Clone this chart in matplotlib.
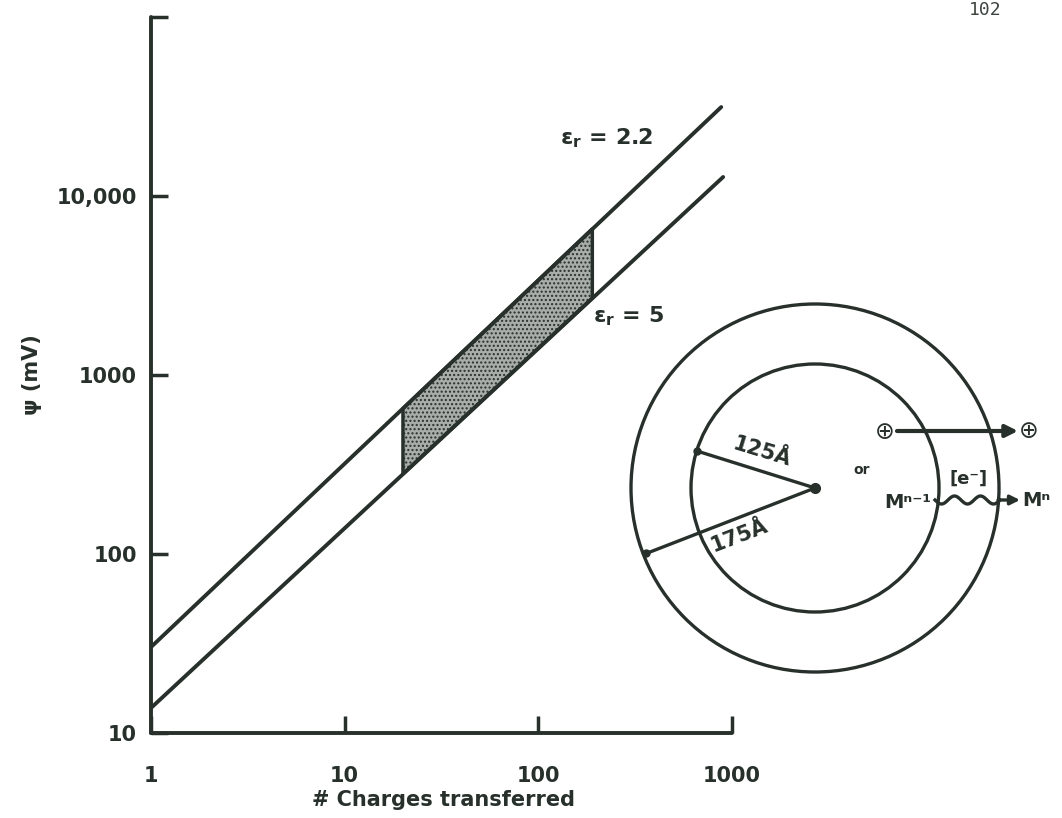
import numpy as np
import matplotlib
matplotlib.use("Agg")
import matplotlib.pyplot as plt
from matplotlib.patches import Circle

W, H = 1062, 818
INK = "#27302b"

# ── Data ─────────────────────────────────────────────────────────────────────
charges_22 = [1, 880]          # eps_r = 2.2 line
psi_22 = [30.2, 31400]
charges_5 = [1, 900]           # eps_r = 5 line
psi_5 = [13.8, 12770]
shade_charges = [20, 190]      # shaded band between the lines
shade_hi = [650, 6550]
shade_lo = [280, 2690]

x_ticks = [1, 10, 100, 1000]
x_tick_labels = ["1", "10", "100", "1000"]
y_ticks = [10, 100, 1000, 10000, 100000]
y_tick_labels = ["10", "100", "1000", "10,000", ""]

# inset schematic, in pixel units of the figure
centre = (815, 488)
r_inner, r_outer = 124, 184
spoke_125_deg = 197.4
spoke_175_deg = 158.8


def fx(px):
    return px / W


def fy(py):
    return 1 - py / H


plt.rcParams["font.family"] = ["DejaVu Sans"]
plt.rcParams["font.weight"] = "bold"
plt.rcParams["mathtext.fontset"] = "custom"
plt.rcParams["mathtext.rm"] = "DejaVu Sans:bold"
plt.rcParams["mathtext.it"] = "DejaVu Sans:bold"
plt.rcParams["mathtext.default"] = "rm"

fig = plt.figure(figsize=(W / 100, H / 100), dpi=100)
fig.patch.set_facecolor("white")

# ── Main log-log panel ───────────────────────────────────────────────────────
ax = fig.add_axes([fx(151), fy(733), (732 - 151) / W, (733 - 17) / H])
ax.set_xscale("log")
ax.set_yscale("log")
ax.set_xlim(1, 1000)
ax.set_ylim(10, 100000)
ax.patch.set_alpha(0)

ax.fill_between(shade_charges, shade_lo, shade_hi, facecolor="#a9ada9",
                edgecolor=INK, hatch="....", linewidth=2.5, zorder=2)
ax.plot(charges_22, psi_22, color=INK, lw=2.8, solid_capstyle="round", zorder=3)
ax.plot(charges_5, psi_5, color=INK, lw=2.8, solid_capstyle="round", zorder=3)

for side in ("top", "right"):
    ax.spines[side].set_visible(False)
for side in ("left", "bottom"):
    ax.spines[side].set_linewidth(2.8)
    ax.spines[side].set_color(INK)
    ax.spines[side].set_capstyle("round")

ax.set_xticks(x_ticks)
ax.set_xticklabels(x_tick_labels)
ax.set_yticks(y_ticks)
ax.set_yticklabels(y_tick_labels)
ax.minorticks_off()
ax.tick_params(axis="both", direction="in", length=12, width=2.5, color=INK,
               labelsize=15, labelcolor=INK)
ax.tick_params(axis="x", pad=24)
ax.tick_params(axis="y", pad=10)

fig.text(fx(443), fy(800), "# Charges transferred", ha="center", va="center",
         fontsize=15, color=INK)
fig.text(fx(32), fy(375), "ψ (mV)", ha="center", va="center", rotation=90,
         fontsize=15, color=INK)
fig.text(fx(560), fy(138), r"ε$_r$ = 2.2", ha="left", va="center",
         fontsize=16, color=INK)
fig.text(fx(593), fy(316), r"ε$_r$ = 5", ha="left", va="center",
         fontsize=16, color=INK)
fig.text(fx(985), fy(10), "102", ha="center", va="center", fontsize=13,
         family="DejaVu Sans Mono", fontweight="normal", color="#3d4640")

# ── Inset schematic ──────────────────────────────────────────────────────────
ins = fig.add_axes([fx(600), fy(700), 462 / W, 420 / H])
ins.set_xlim(600, 1062)
ins.set_ylim(700, 280)
ins.axis("off")
ins.patch.set_alpha(0)

for r in (r_outer, r_inner):
    ins.add_patch(Circle(centre, r, fill=False, lw=2.4, color=INK))

cx, cy = centre
for ang, r in ((spoke_125_deg, r_inner), (spoke_175_deg, r_outer - 3)):
    ex = cx + r * np.cos(np.radians(ang))
    ey = cy + r * np.sin(np.radians(ang))
    ins.plot([cx, ex], [cy, ey], color=INK, lw=2.4)
    ins.plot(ex, ey, "o", color=INK, ms=5)
ins.plot(cx, cy, "o", color=INK, ms=7)

ins.text(762, 452, "125Å", rotation=-17, ha="center", va="center",
         fontsize=15, color=INK)
ins.text(739, 536, "175Å", rotation=21, ha="center", va="center",
         fontsize=15, color=INK)
ins.text(862, 470, "or", ha="center", va="center", fontsize=10, color=INK)

ins.text(885, 432, "⊕", ha="center", va="center", fontsize=17, color=INK,
         fontweight="normal")
ins.text(1029, 431, "⊕", ha="center", va="center", fontsize=17, color=INK,
         fontweight="normal")
ins.annotate("", xy=(1018, 431), xytext=(897, 431),
             arrowprops=dict(arrowstyle="-|>", lw=3, color=INK,
                             mutation_scale=18, shrinkA=0, shrinkB=0))

wx = np.linspace(935, 1000, 80)
wy = 500 + 4 * np.sin((wx - 935) / 65 * 5 * np.pi)
ins.plot(wx, wy, color=INK, lw=2.4)
ins.annotate("", xy=(1020, 500), xytext=(998, 500),
             arrowprops=dict(arrowstyle="-|>", lw=2.4, color=INK,
                             mutation_scale=14, shrinkA=0, shrinkB=0))
ins.text(931, 502, "Mⁿ⁻¹", ha="right", va="center", fontsize=14, color=INK)
ins.text(969, 479, "[e⁻]", ha="center", va="center", fontsize=13, color=INK)
ins.text(1022, 501, "Mⁿ", ha="left", va="center", fontsize=14, color=INK)

fig.savefig("out.png", dpi=100)
